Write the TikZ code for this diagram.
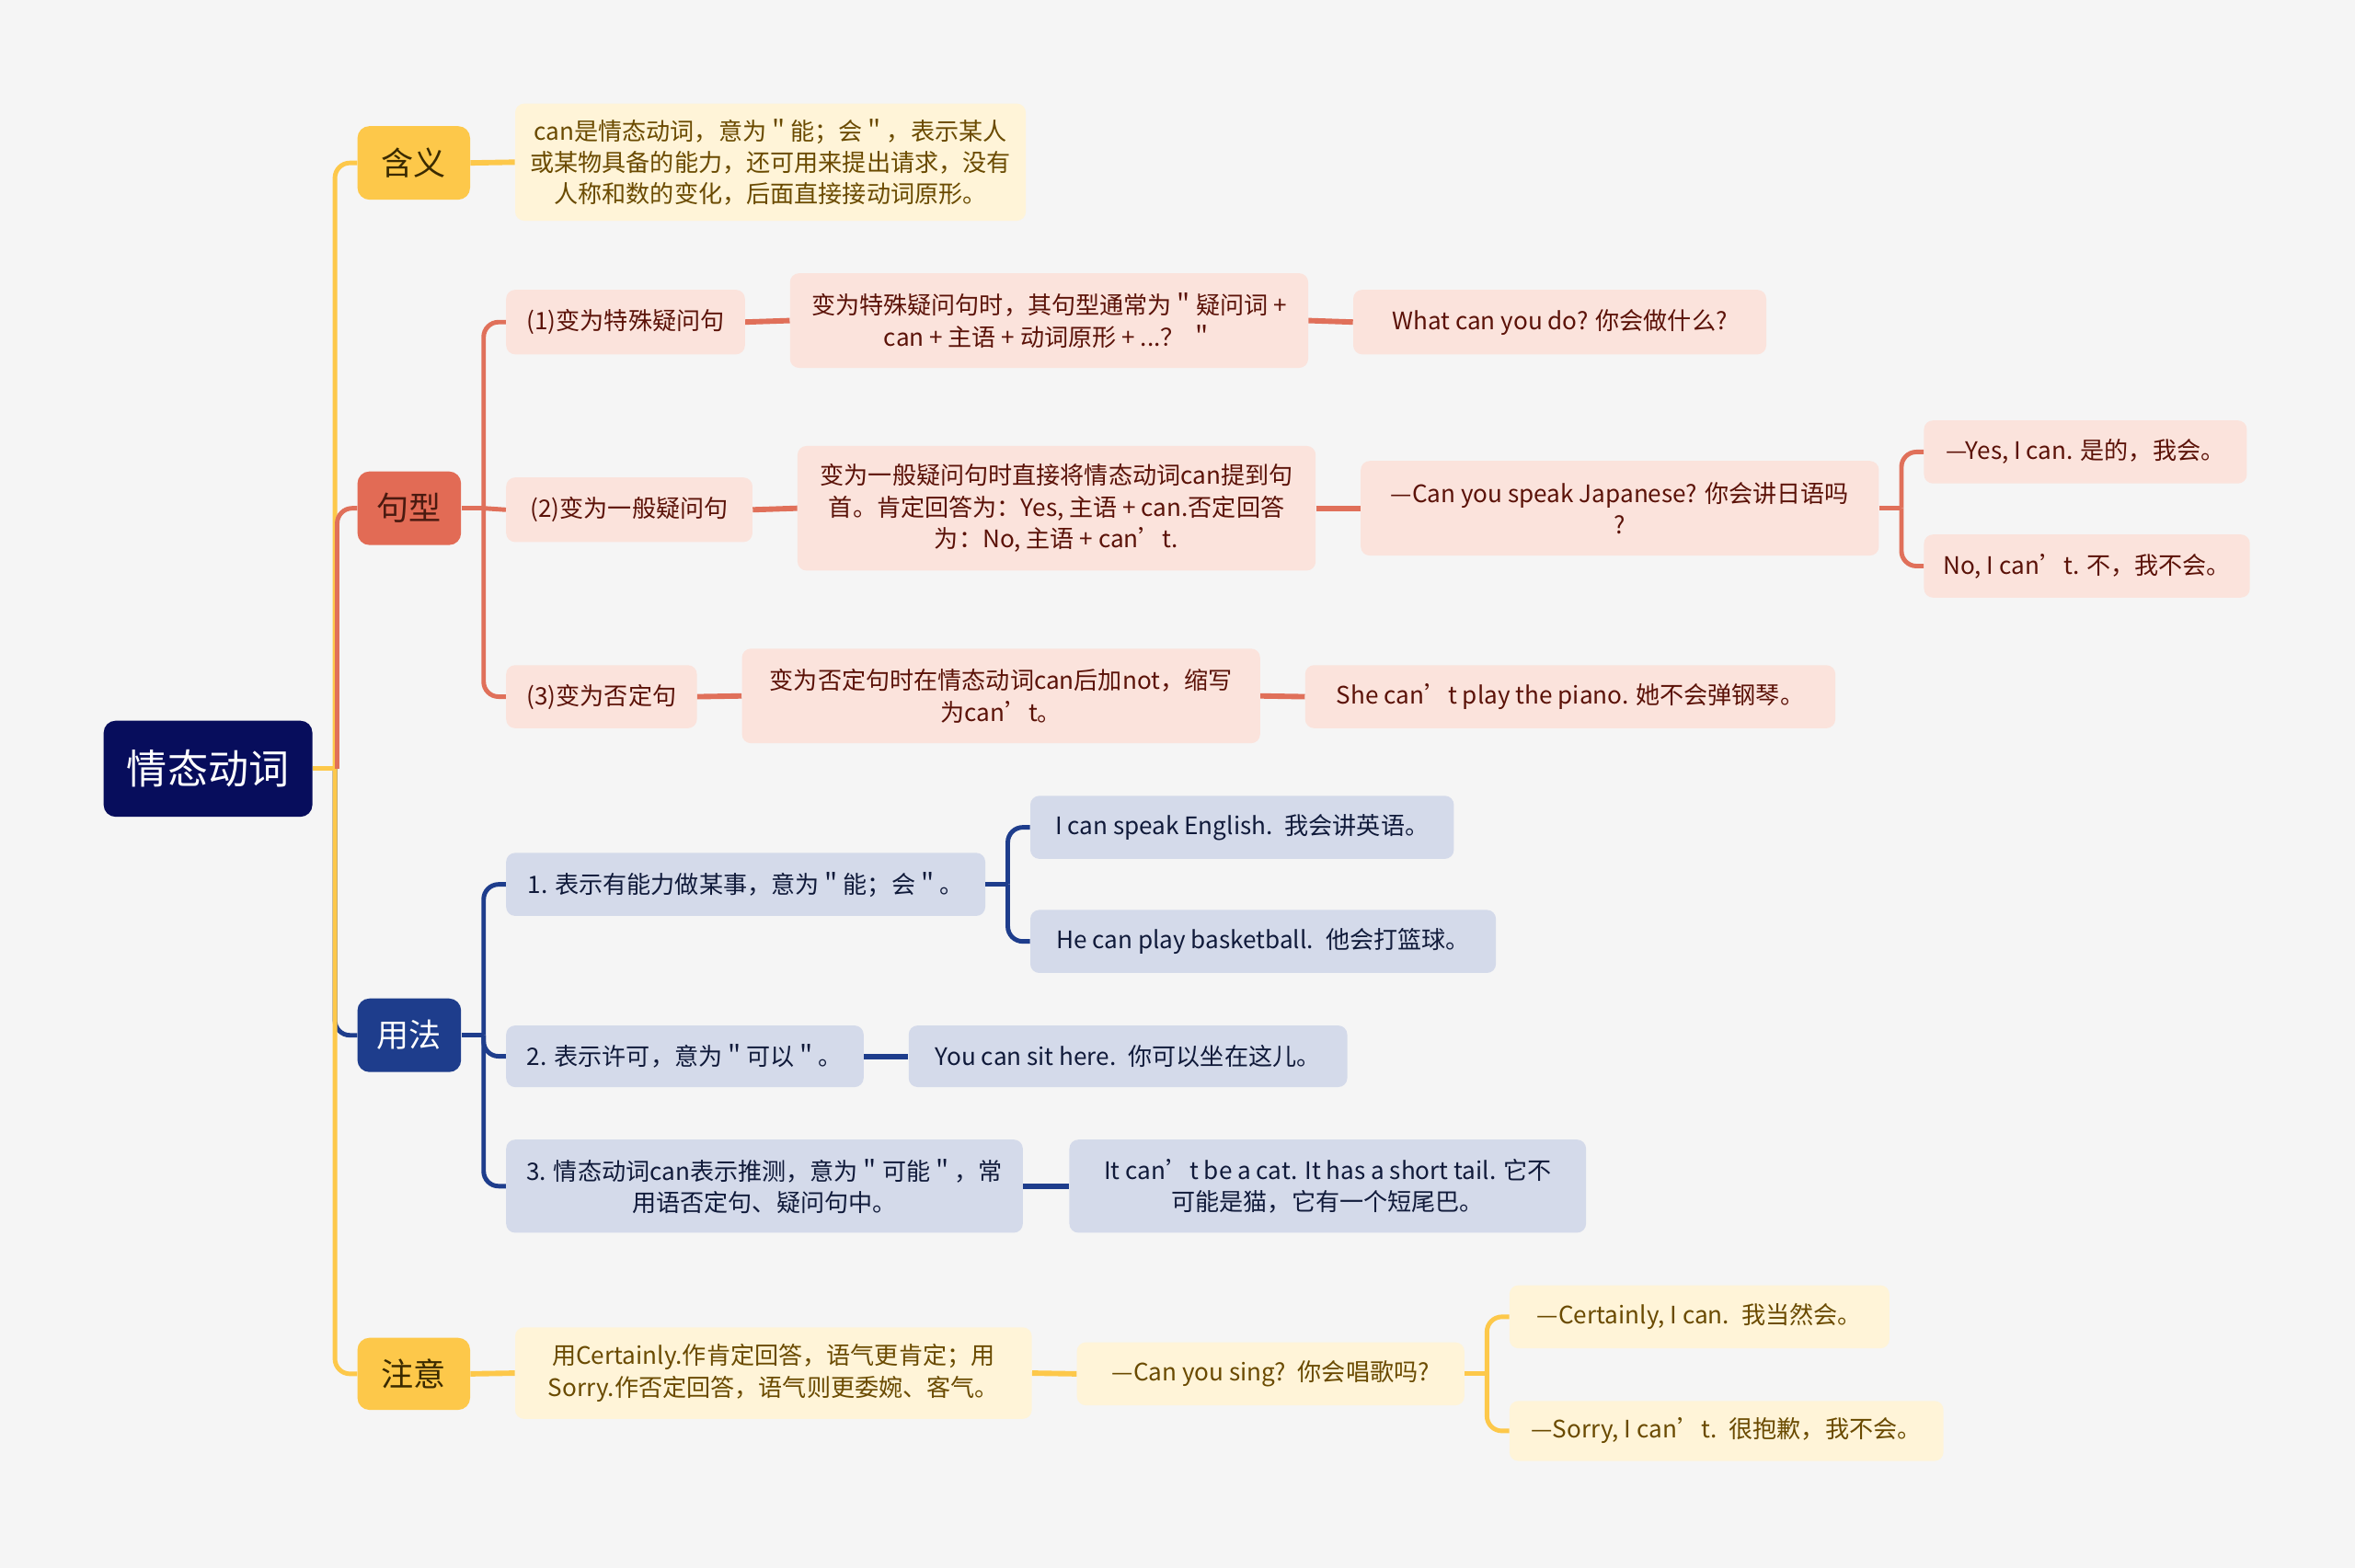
\documentclass[tikz,border=0pt]{standalone}
\usepackage{fontspec}
\setmainfont{Noto Sans CJK SC}
\definecolor{bgc}{HTML}{F5F5F5}
\definecolor{rootc}{HTML}{070D5C}
\definecolor{yel}{HTML}{FDC84A}
\definecolor{cream}{HTML}{FFF4D8}
\definecolor{brown}{HTML}{6A4A00}
\definecolor{redc}{HTML}{E0705A}
\definecolor{redbox}{HTML}{E26B55}
\definecolor{pink}{HTML}{FBE3DC}
\definecolor{dred}{HTML}{5B1208}
\definecolor{bluec}{HTML}{1E3D8C}
\definecolor{lblue}{HTML}{D4DAEA}
\definecolor{dblue}{HTML}{101A3A}
\definecolor{dark1}{HTML}{3A2A00}
\definecolor{dark2}{HTML}{4A1A10}
\tikzset{
  box/.style={rounded corners=6pt, inner sep=0pt, align=center, font=\fontsize{16}{21}\selectfont},
  rootbox/.style={box, fill=rootc, text=white, rounded corners=8pt, font=\fontsize{27}{32}\selectfont},
  l1box/.style={box, rounded corners=8pt, font=\fontsize{21.5}{26}\selectfont},
  ybox/.style={box, fill=cream, text=brown},
  rbox/.style={box, fill=pink, text=dred},
  bbox/.style={box, fill=lblue, text=dblue},
  conn/.style={line width=3pt, rounded corners=10pt},
  yl/.style={conn, draw=yel},
  rl/.style={conn, draw=redc},
  bl/.style={conn, draw=bluec},
  link/.style={line width=3.6pt},
}
\begin{document}
\begin{tikzpicture}[x=1pt,y=-1pt]
\fill[bgc] (0,0) rectangle (1568,1044);
\useasboundingbox (0,0) rectangle (1568,1044);

% root and level 1
\node[rootbox, minimum width=139pt, minimum height=64pt] (root) at (138.5,512) {情态动词};
\node[l1box, fill=yel, text=dark1, minimum width=75pt, minimum height=49pt] (hanyi) at (275.5,108.5) {含义};
\node[l1box, fill=redbox, text=dark2, minimum width=69pt, minimum height=49pt] (juxing) at (272.5,338.5) {句型};
\node[l1box, fill=bluec, text=white, minimum width=69pt, minimum height=49pt] (yongfa) at (272.5,689.5) {用法};
\node[l1box, fill=yel, text=dark1, minimum width=75pt, minimum height=48pt] (zhuyi) at (275.5,915) {注意};

% 含义
\node[ybox, minimum width=340pt, minimum height=78pt] (hanyiD) at (513,108) {can是情态动词，意为＂能；会＂，表示某人\\或某物具备的能力，还可用来提出请求，没有\\人称和数的变化，后面直接接动词原形。};

% 句型
\node[rbox, minimum width=159pt, minimum height=43pt] (j1) at (416.5,214.5) {(1)变为特殊疑问句};
\node[rbox, minimum width=345pt, minimum height=63pt] (j1d) at (698.5,213.5) {变为特殊疑问句时，其句型通常为＂疑问词 +\\can + 主语 + 动词原形 + ...？ ＂};
\node[rbox, minimum width=275pt, minimum height=43pt] (j1e) at (1038.5,214.5) {What can you do? 你会做什么?};
\node[rbox, minimum width=164pt, minimum height=43pt] (j2) at (419,339.5) {(2)变为一般疑问句};
\node[rbox, minimum width=345pt, minimum height=83pt] (j2d) at (703.5,338.5) {变为一般疑问句时直接将情态动词can提到句\\首。肯定回答为：Yes, 主语 + can.否定回答\\为：No, 主语 + can’t.};
\node[rbox, minimum width=345pt, minimum height=63pt] (j2e) at (1078.5,338.5) {—Can you speak Japanese? 你会讲日语吗\\?};
\node[rbox, minimum width=215pt, minimum height=42pt] (j2y) at (1388.5,301) {—Yes, I can. 是的，我会。};
\node[rbox, minimum width=217pt, minimum height=42pt] (j2n) at (1389.5,377) {No, I can’t. 不，我不会。};
\node[rbox, minimum width=127pt, minimum height=42pt] (j3) at (400.5,464) {(3)变为否定句};
\node[rbox, minimum width=345pt, minimum height=63pt] (j3d) at (666.5,463.5) {变为否定句时在情态动词can后加not，缩写\\为can’t。};
\node[rbox, minimum width=353pt, minimum height=42pt] (j3e) at (1045.5,464) {She can’t play the piano. 她不会弹钢琴。};

% 用法
\node[bbox, minimum width=319pt, minimum height=42pt] (y1) at (496.5,589) {1. 表示有能力做某事，意为＂能；会＂。};
\node[bbox, minimum width=282pt, minimum height=42pt] (y1a) at (827,551) {I can speak English.\enspace 我会讲英语。};
\node[bbox, minimum width=310pt, minimum height=42pt] (y1b) at (841,627) {He can play basketball.\enspace 他会打篮球。};
\node[bbox, minimum width=238pt, minimum height=41pt] (y2) at (456,703.5) {2. 表示许可，意为＂可以＂。};
\node[bbox, minimum width=292pt, minimum height=41pt] (y2a) at (751,703.5) {You can sit here.\enspace 你可以坐在这儿。};
\node[bbox, minimum width=344pt, minimum height=62pt] (y3) at (509,790) {3. 情态动词can表示推测，意为＂可能＂，常\\用语否定句、疑问句中。};
\node[bbox, minimum width=344pt, minimum height=62pt] (y3a) at (884,790) {It can’t be a cat. It has a short tail. 它不\\可能是猫，它有一个短尾巴。};

% 注意
\node[ybox, minimum width=344pt, minimum height=61pt] (z1) at (515,914.5) {用Certainly.作肯定回答，语气更肯定；用\\Sorry.作否定回答，语气则更委婉、客气。};
\node[ybox, minimum width=258pt, minimum height=42pt] (z2) at (846,915) {—Can you sing?\enspace 你会唱歌吗?};
\node[ybox, minimum width=253pt, minimum height=42pt] (z3) at (1131.5,877) {—Certainly, I can.\enspace 我当然会。};
\node[ybox, minimum width=289pt, minimum height=40pt] (z4) at (1149.5,953) {—Sorry, I can’t.\enspace 很抱歉，我不会。};

% junction coordinates
\coordinate (rt) at (223,512);
\coordinate (rtr) at (224.5,512);
\coordinate (jb) at (322,338.5);
\coordinate (jeb) at (1266,338.5);
\coordinate (yb) at (322,689.5);
\coordinate (y1j) at (671,589);
\coordinate (zb) at (990,915);

% level-1 connectors (order: blue, yellow, red)
\draw[bl] (rt) |- (yongfa.west);
\draw[yl] (root.east) -- (rt);
\draw[yl] (rt) |- (hanyi.west);
\draw[yl] (rt) |- (zhuyi.west);
\draw[rl] (rtr) |- (juxing.west);

% 含义
\draw[yl, link] (hanyi.east) -- (hanyiD.west);

% 句型
\draw[rl] (juxing.east) -- (jb);
\draw[rl] (jb) |- (j1.west);
\draw[rl] (jb) -- (j2.west);
\draw[rl] (jb) |- (j3.west);
\draw[rl, link] (j1.east) -- (j1d.west);
\draw[rl, link] (j1d.east) -- (j1e.west);
\draw[rl, link] (j2.east) -- (j2d.west);
\draw[rl, link] (j2d.east) -- (j2e.west);
\draw[rl] (j2e.east) -- (jeb);
\draw[rl] (jeb) |- (j2y.west);
\draw[rl] (jeb) |- (j2n.west);
\draw[rl, link] (j3.east) -- (j3d.west);
\draw[rl, link] (j3d.east) -- (j3e.west);

% 用法
\draw[bl] (yongfa.east) -- (yb);
\draw[bl] (yb) |- (y1.west);
\draw[bl] (yb) |- (y2.west);
\draw[bl] (yb) |- (y3.west);
\draw[bl] (y1.east) -- (y1j);
\draw[bl] (y1j) |- (y1a.west);
\draw[bl] (y1j) |- (y1b.west);
\draw[bl, link] (y2.east) -- (y2a.west);
\draw[bl, link] (y3.east) -- (y3a.west);

% 注意
\draw[yl, link] (zhuyi.east) -- (z1.west);
\draw[yl, link] (z1.east) -- (z2.west);
\draw[yl] (z2.east) -- (zb);
\draw[yl] (zb) |- (z3.west);
\draw[yl] (zb) |- (z4.west);
\end{tikzpicture}
\end{document}
